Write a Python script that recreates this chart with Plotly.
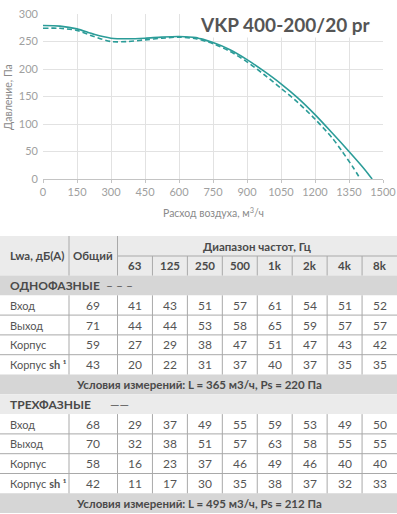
import plotly.graph_objects as go

# ---------------- data ----------------
flow_3ph = [0, 75, 150, 225, 300, 375, 450, 525, 600, 675, 750, 825, 900, 975, 1050, 1125, 1200, 1275, 1350, 1420, 1452]
pres_3ph = [279, 278, 273, 263, 256, 255, 256, 258, 259, 257, 248, 235, 217, 196, 173, 147, 117, 84, 50, 17, 0]
flow_1ph = [0, 75, 150, 225, 300, 375, 450, 525, 600, 675, 750, 825, 900, 975, 1050, 1125, 1200, 1275, 1320, 1370, 1400]
pres_1ph = [274, 274, 270, 259, 250, 250, 253, 256, 258, 255, 246, 232, 213, 190, 165, 139, 109, 75, 50, 20, 0]

x_ticks = [0, 150, 300, 450, 600, 750, 900, 1050, 1200, 1350, 1500]
y_ticks = [0, 50, 100, 150, 200, 250, 300]

title_text = "VKP 400-200/20 pr"
x_title = "Расход воздуха, м<sup>3</sup>/ч"
y_title = "Давление, Па"

freq_labels = ["63", "125", "250", "500", "1k", "2k", "4k", "8k"]
row_labels = ["Вход", "Выход", "Корпус", "Корпус <b>sh ¹</b>"]
total_1ph = [69, 71, 59, 43]
bands_1ph = [
    [41, 43, 51, 57, 61, 54, 51, 52],
    [44, 44, 53, 58, 65, 59, 57, 57],
    [27, 29, 38, 47, 51, 47, 43, 42],
    [20, 22, 31, 37, 40, 37, 35, 35],
]
total_3ph = [68, 70, 58, 42]
bands_3ph = [
    [29, 37, 49, 55, 59, 53, 49, 50],
    [32, 38, 51, 57, 63, 58, 55, 55],
    [16, 23, 37, 46, 49, 46, 40, 40],
    [11, 17, 30, 35, 38, 37, 32, 33],
]
cond_1ph = "Условия измерений: L = 365 м3/ч, Ps = 220 Па"
cond_3ph = "Условия измерений: L = 495 м3/ч, Ps = 212 Па"

# ---------------- layout helpers ----------------
W, H = 397, 514
TEAL = "#2b9c98"
FONT = "Lato"


def px(x):
    return x / W


def py(y):
    return 1 - y / H


fig = go.Figure()
fig.add_trace(go.Scatter(x=flow_1ph, y=pres_1ph, mode="lines",
                         line=dict(color=TEAL, width=1.6, dash="5px,3px", shape="spline", smoothing=0.8),
                         hoverinfo="skip", showlegend=False))
fig.add_trace(go.Scatter(x=flow_3ph, y=pres_3ph, mode="lines",
                         line=dict(color=TEAL, width=1.6, shape="spline", smoothing=0.8),
                         hoverinfo="skip", showlegend=False))

fig.update_layout(
    width=W, height=H,
    margin=dict(l=0, r=0, t=0, b=0),
    paper_bgcolor="white", plot_bgcolor="white",
    font=dict(family=FONT, color="#555"),
    xaxis=dict(range=[0, 1500], domain=[px(43), px(383)], tickvals=x_ticks,
               showgrid=True, gridcolor="#e2e2e2", gridwidth=1, zeroline=False,
               showline=True, linecolor="#c4c4c4", linewidth=1,
               ticks="outside", ticklen=3, tickcolor="#c4c4c4",
               tickfont=dict(size=11, color="#a0a0a0", family=FONT), automargin=False,
               fixedrange=True),
    yaxis=dict(range=[0, 300], domain=[py(179), py(14)], tickvals=y_ticks,
               showgrid=True, gridcolor="#e2e2e2", gridwidth=1, zeroline=False,
               showline=False, ticks="", ticklabelstandoff=4,
               tickfont=dict(size=11, color="#a0a0a0", family=FONT), automargin=False,
               fixedrange=True),
)

ann = []
shapes = []

# chart texts
ann.append(dict(x=px(285), y=py(24), xref="paper", yref="paper", text="<b>" + title_text + "</b>", showarrow=False,
                font=dict(size=19, color="#555555", family=FONT), bgcolor="white",
                xanchor="center", yanchor="middle", borderpad=1))
ann.append(dict(x=px(213), y=py(212), xref="paper", yref="paper", text=x_title, showarrow=False,
                font=dict(size=10.5, color="#8a8a8a", family=FONT), xanchor="center", yanchor="middle"))
ann.append(dict(x=px(8), y=py(97), xref="paper", yref="paper", text=y_title, showarrow=False, textangle=-90,
                font=dict(size=10.5, color="#8a8a8a", family=FONT), xanchor="center", yanchor="middle"))

# ---------------- table ----------------
LINE = "#a9a9a9"
HDR = "#ebebeb"
DARK = "#d6d6d6"
TXT = "#4a4a4a"

col_edges = [0, 69, 117.5] + [117.5 + (397 - 117.5) * (i + 1) / 8 for i in range(8)]
y_hdr_top, y_hdr_mid, y_hdr_bot = 236, 256, 275.5


def rect(x0, y0, x1, y1, color):
    shapes.append(dict(type="rect", xref="paper", yref="paper", x0=px(x0), x1=px(x1), y0=py(y1), y1=py(y0),
                       fillcolor=color, line=dict(width=0), layer="below"))


def hline(x0, x1, y, color=LINE):
    shapes.append(dict(type="line", xref="paper", yref="paper", x0=px(x0), x1=px(x1), y0=py(y), y1=py(y),
                       line=dict(color=color, width=1)))


def vline(x, y0, y1, color=LINE):
    shapes.append(dict(type="line", xref="paper", yref="paper", x0=px(x), x1=px(x), y0=py(y0), y1=py(y1),
                       line=dict(color=color, width=1)))


def text(x, y, s, size=12, color=TXT, anchor="center", bold=False):
    if bold:
        s = "<b>" + s + "</b>"
    ann.append(dict(x=px(x), y=py(y), xref="paper", yref="paper", text=s, showarrow=False,
                    font=dict(size=size, color=color, family=FONT), xanchor=anchor, yanchor="middle"))


# header
rect(0, y_hdr_top, W, y_hdr_bot, HDR)
vline(col_edges[1], y_hdr_top, y_hdr_bot)
vline(col_edges[2], y_hdr_top, y_hdr_bot)
hline(col_edges[2], W, y_hdr_mid)
for i in range(3, 10):
    vline(col_edges[i], y_hdr_mid, y_hdr_bot)
text(8, (y_hdr_top + y_hdr_bot) / 2, "Lwa, дБ(A)", size=11.5, anchor="left", bold=True)
text((col_edges[1] + col_edges[2]) / 2, (y_hdr_top + y_hdr_bot) / 2, "Общий", size=11.5, bold=True)
text((col_edges[2] + W) / 2, (y_hdr_top + y_hdr_mid) / 2, "Диапазон частот, Гц", size=11.5, bold=True)
for i, f in enumerate(freq_labels):
    text((col_edges[i + 2] + col_edges[i + 3]) / 2, (y_hdr_mid + y_hdr_bot) / 2, f, size=11.5, bold=True)


def block(y_top, name, mark, band_color, totals, bands, cond):
    band_h = 19.8
    row_h = 19.8
    rect(0, y_top, W, y_top + band_h, band_color)
    text(8, y_top + band_h / 2, name, size=12, anchor="left", bold=True)
    text(119, y_top + band_h / 2, mark, size=12, color="#555", bold=False)
    y0 = y_top + band_h
    for r in range(len(totals)):
        yt = y0 + r * row_h
        yc = yt + row_h / 2
        if r > 0:
            hline(0, W, yt)
        text(8, yc, row_labels[r], size=11, color="#555", anchor="left")
        text((col_edges[1] + col_edges[2]) / 2, yc, str(totals[r]), size=12, color="#555")
        for c, v in enumerate(bands[r]):
            text((col_edges[c + 2] + col_edges[c + 3]) / 2, yc, str(v), size=12, color="#555")
    y_end = y0 + len(totals) * row_h
    for i in range(1, 10):
        vline(col_edges[i], y0, y_end)
    rect(0, y_end, W, y_end + band_h, DARK)
    text(W / 2, y_end + band_h / 2, cond, size=11.5, bold=True)
    return y_end + band_h


y_next = block(y_hdr_bot, "ОДНОФАЗНЫЕ", "– – –", DARK, total_1ph, bands_1ph, cond_1ph)
block(y_next, "ТРЕХФАЗНЫЕ", "——", HDR, total_3ph, bands_3ph, cond_3ph)

fig.update_layout(annotations=ann, shapes=shapes)
fig.write_html("out.html", config={"displayModeBar": False},
               post_script="document.body.style.margin='0px';document.body.style.padding='0px';document.body.style.overflow='hidden';")
